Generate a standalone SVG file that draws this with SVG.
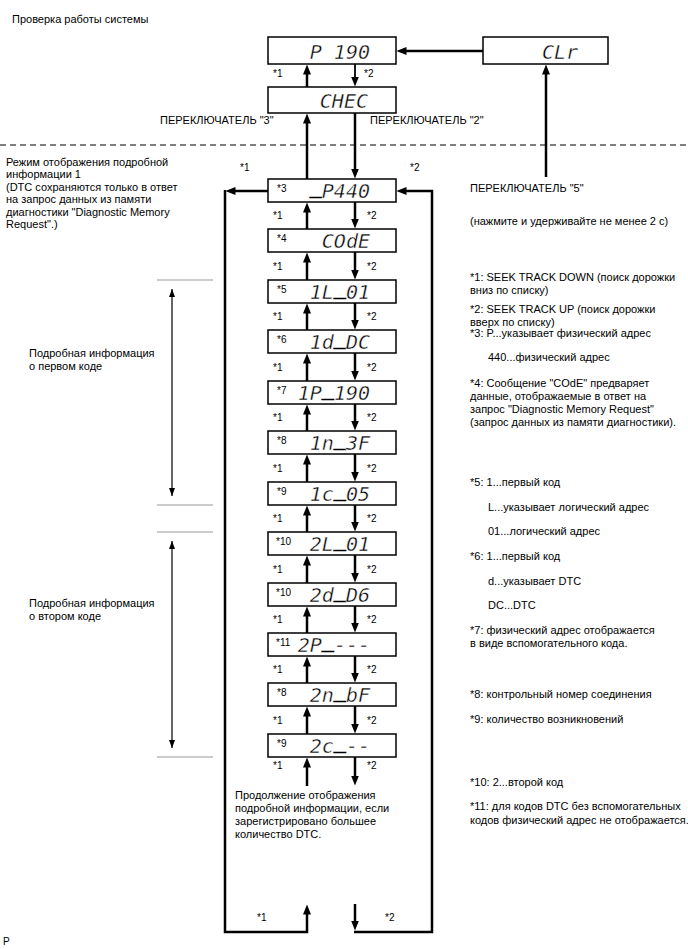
<svg xmlns="http://www.w3.org/2000/svg" width="688" height="949" viewBox="0 0 688 949">
<style>
.t{font-family:"Liberation Sans",Arial,sans-serif;font-size:11px;fill:#000}
.s{font-family:"Liberation Sans",Arial,sans-serif;font-size:10px;fill:#000}
.d{font-family:"DejaVu Sans Mono",monospace;font-style:oblique;font-size:20px;fill:#000;stroke:#fff;stroke-width:0.4;text-anchor:end}
.u{stroke:#000;stroke-width:0.9}
.box{fill:#fff;stroke:#000;stroke-width:1.5}
.ar{fill:none;stroke:#000;stroke-width:2.5;marker-end:url(#ah)}
.gl{stroke:#999;stroke-width:1}
.dim{stroke:#000;stroke-width:1.2;marker-start:url(#sa);marker-end:url(#sa)}
</style>
<defs>
<marker id="ah" viewBox="0 0 10 8" markerWidth="10" markerHeight="8" refX="0.5" refY="4" orient="auto" markerUnits="userSpaceOnUse"><path d="M0,0 L10,4 L0,8 z" fill="#000"/></marker>
<marker id="sa" viewBox="0 0 8 6" markerWidth="8" markerHeight="6" refX="8" refY="3" orient="auto-start-reverse" markerUnits="userSpaceOnUse"><path d="M0,0 L8,3 L0,6 z" fill="#000"/></marker>
</defs>

<rect width="688" height="949" fill="#fff"/>

<text class="t" x="12" y="23">Проверка работы системы</text>

<g id="n-p190"><rect class="box" x="268" y="37" width="128" height="27"/><text class="d" x="370" y="59">P 190</text></g>
<g id="n-clr"><rect class="box" x="483" y="37" width="125" height="27"/><text class="d" x="578" y="59">CLr</text></g>
<g id="n-chec"><rect class="box" x="268" y="87" width="128" height="26"/><text class="d" x="368" y="108">CHEC</text></g>

<line x1="0" y1="145" x2="688" y2="145" stroke="#555" stroke-width="1.3" stroke-dasharray="6,4"/>

<g id="n-3"><rect class="box" x="268" y="179" width="128" height="23"/><text class="s" x="277" y="192">*3</text><text class="d" x="370" y="198"><tspan class="u" dy="-5">_</tspan><tspan dy="5">P440</tspan></text></g>
<g id="n-4"><rect class="box" x="268" y="229" width="128" height="23"/><text class="s" x="277" y="242">*4</text><text class="d" x="370" y="248">COdE</text></g>
<g id="n-5"><rect class="box" x="268" y="280" width="128" height="23"/><text class="s" x="277" y="293">*5</text><text class="d" x="370" y="299">1L<tspan class="u" dy="-5">_</tspan><tspan dy="5">01</tspan></text></g>
<g id="n-6"><rect class="box" x="268" y="330" width="128" height="23"/><text class="s" x="277" y="343">*6</text><text class="d" x="370" y="349">1d<tspan class="u" dy="-5">_</tspan><tspan dy="5">DC</tspan></text></g>
<g id="n-7"><rect class="box" x="268" y="381" width="128" height="23"/><text class="s" x="277" y="394">*7</text><text class="d" x="370" y="400">1P<tspan class="u" dy="-5">_</tspan><tspan dy="5">190</tspan></text></g>
<g id="n-8a"><rect class="box" x="268" y="431" width="128" height="23"/><text class="s" x="277" y="444">*8</text><text class="d" x="370" y="450">1n<tspan class="u" dy="-5">_</tspan><tspan dy="5">3F</tspan></text></g>
<g id="n-9a"><rect class="box" x="268" y="482" width="128" height="23"/><text class="s" x="277" y="495">*9</text><text class="d" x="370" y="501">1c<tspan class="u" dy="-5">_</tspan><tspan dy="5">05</tspan></text></g>
<g id="n-10a"><rect class="box" x="268" y="532" width="128" height="23"/><text class="s" x="276" y="545">*10</text><text class="d" x="370" y="551">2L<tspan class="u" dy="-5">_</tspan><tspan dy="5">01</tspan></text></g>
<g id="n-10b"><rect class="box" x="268" y="583" width="128" height="23"/><text class="s" x="276" y="596">*10</text><text class="d" x="370" y="602">2d<tspan class="u" dy="-5">_</tspan><tspan dy="5">D6</tspan></text></g>
<g id="n-11"><rect class="box" x="268" y="633" width="128" height="23"/><text class="s" x="276" y="646">*11</text><text class="d" x="370" y="652">2P<tspan class="u" dy="-5">_</tspan><tspan dy="5">---</tspan></text></g>
<g id="n-8b"><rect class="box" x="268" y="683" width="128" height="23"/><text class="s" x="277" y="696">*8</text><text class="d" x="370" y="702">2n<tspan class="u" dy="-5">_</tspan><tspan dy="5">bF</tspan></text></g>
<g id="n-9b"><rect class="box" x="268" y="734" width="128" height="23"/><text class="s" x="277" y="747">*9</text><text class="d" x="370" y="753">2c<tspan class="u" dy="-5">_</tspan><tspan dy="5">--</tspan></text></g>

<g id="connectors">
<line class="ar" x1="483" y1="51" x2="406" y2="51"/>
<line class="ar" x1="307" y1="87" x2="307" y2="74"/>
<line class="ar" x1="355" y1="64" x2="355" y2="77" style="stroke-width:1.8"/>
<line class="ar" x1="307" y1="179" x2="307" y2="123"/>
<line class="ar" x1="355" y1="113" x2="355" y2="169"/>
<line class="ar" x1="546" y1="177" x2="546" y2="74"/>

<line class="ar" x1="268" y1="191" x2="235" y2="191"/>
<path class="ar" d="M225,190 V932 H307 V914"/>
<line class="ar" x1="355" y1="904" x2="355" y2="921"/>
<path class="ar" d="M354,932 H432 V191 H406"/>

<line class="ar" x1="307" y1="229" x2="307" y2="212"/><line class="ar" x1="355" y1="202" x2="355" y2="219"/>
<line class="ar" x1="307" y1="280" x2="307" y2="262"/><line class="ar" x1="355" y1="252" x2="355" y2="270"/>
<line class="ar" x1="307" y1="330" x2="307" y2="313"/><line class="ar" x1="355" y1="303" x2="355" y2="320"/>
<line class="ar" x1="307" y1="381" x2="307" y2="363"/><line class="ar" x1="355" y1="353" x2="355" y2="371"/>
<line class="ar" x1="307" y1="431" x2="307" y2="414"/><line class="ar" x1="355" y1="404" x2="355" y2="421"/>
<line class="ar" x1="307" y1="482" x2="307" y2="464"/><line class="ar" x1="355" y1="454" x2="355" y2="472"/>
<line class="ar" x1="307" y1="532" x2="307" y2="515"/><line class="ar" x1="355" y1="505" x2="355" y2="522"/>
<line class="ar" x1="307" y1="583" x2="307" y2="565"/><line class="ar" x1="355" y1="555" x2="355" y2="573"/>
<line class="ar" x1="307" y1="633" x2="307" y2="616"/><line class="ar" x1="355" y1="606" x2="355" y2="623"/>
<line class="ar" x1="307" y1="683" x2="307" y2="666"/><line class="ar" x1="355" y1="656" x2="355" y2="673"/>
<line class="ar" x1="307" y1="734" x2="307" y2="716"/><line class="ar" x1="355" y1="706" x2="355" y2="724"/>
<line class="ar" x1="307" y1="786" x2="307" y2="767"/><line class="ar" x1="355" y1="757" x2="355" y2="776"/>
</g>

<g id="step-labels">
<text class="s" x="273" y="77">*1</text><text class="s" x="364" y="77">*2</text>
<text class="s" x="240" y="171">*1</text><text class="s" x="410" y="171">*2</text>
<text class="s" x="273" y="219">*1</text><text class="s" x="367" y="219">*2</text>
<text class="s" x="273" y="270">*1</text><text class="s" x="367" y="270">*2</text>
<text class="s" x="273" y="320">*1</text><text class="s" x="367" y="320">*2</text>
<text class="s" x="273" y="371">*1</text><text class="s" x="367" y="371">*2</text>
<text class="s" x="273" y="421">*1</text><text class="s" x="367" y="421">*2</text>
<text class="s" x="273" y="472">*1</text><text class="s" x="367" y="472">*2</text>
<text class="s" x="273" y="522">*1</text><text class="s" x="367" y="522">*2</text>
<text class="s" x="273" y="573">*1</text><text class="s" x="367" y="573">*2</text>
<text class="s" x="273" y="623">*1</text><text class="s" x="367" y="623">*2</text>
<text class="s" x="273" y="673">*1</text><text class="s" x="367" y="673">*2</text>
<text class="s" x="273" y="724">*1</text><text class="s" x="367" y="724">*2</text>
<text class="s" x="273" y="769">*1</text><text class="s" x="367" y="769">*2</text>
<text class="s" x="257" y="921">*1</text><text class="s" x="385" y="921">*2</text>
</g>

<text class="t" x="160" y="124">ПЕРЕКЛЮЧАТЕЛЬ "3"</text>
<text class="t" x="370" y="124">ПЕРЕКЛЮЧАТЕЛЬ "2"</text>

<text class="t"><tspan x="6" y="166">Режим отображения подробной</tspan><tspan x="6" y="178">информации 1</tspan><tspan x="6" y="191">(DTC сохраняются только в ответ</tspan><tspan x="6" y="203">на запрос данных из памяти</tspan><tspan x="6" y="216">диагностики "Diagnostic Memory</tspan><tspan x="6" y="228">Request".)</tspan></text>

<g id="brackets">
<line class="gl" x1="157" y1="280" x2="213" y2="280"/>
<line class="gl" x1="157" y1="505" x2="213" y2="505"/>
<line class="gl" x1="157" y1="532" x2="213" y2="532"/>
<line class="gl" x1="157" y1="757" x2="213" y2="757"/>
<line class="dim" x1="172" y1="289" x2="172" y2="496"/>
<line class="dim" x1="172" y1="541" x2="172" y2="748"/>
</g>
<text class="t"><tspan x="29" y="357">Подробная информация</tspan><tspan x="29" y="370">о первом коде</tspan></text>
<text class="t"><tspan x="29" y="607">Подробная информация</tspan><tspan x="29" y="620">о втором коде</tspan></text>

<text class="t"><tspan x="235" y="799">Продолжение отображения</tspan><tspan x="235" y="812">подробной информации, если</tspan><tspan x="235" y="825">зарегистрировано большее</tspan><tspan x="235" y="838">количество DTC.</tspan></text>

<g id="notes">
<text class="t" x="470" y="192">ПЕРЕКЛЮЧАТЕЛЬ "5"</text>
<text class="t" x="470" y="225">(нажмите и удерживайте не менее 2 с)</text>
<text class="t"><tspan x="470" y="281">*1: SEEK TRACK DOWN (поиск дорожки</tspan><tspan x="470" y="294">вниз по списку)</tspan></text>
<text class="t"><tspan x="470" y="313">*2: SEEK TRACK UP (поиск дорожки</tspan><tspan x="470" y="326">вверх по списку)</tspan></text>
<text class="t" x="470" y="337">*3: P...указывает физический адрес</text>
<text class="t" x="488" y="361">440...физический адрес</text>
<text class="t"><tspan x="470" y="387">*4: Сообщение "COdE" предваряет</tspan><tspan x="470" y="400">данные, отображаемые в ответ на</tspan><tspan x="470" y="413">запрос "Diagnostic Memory Request"</tspan><tspan x="470" y="426">(запрос данных из памяти диагностики).</tspan></text>
<text class="t" x="470" y="486">*5: 1...первый код</text>
<text class="t" x="488" y="511">L...указывает логический адрес</text>
<text class="t" x="488" y="535">01...логический адрес</text>
<text class="t" x="470" y="560">*6: 1...первый код</text>
<text class="t" x="488" y="585">d...указывает DTC</text>
<text class="t" x="488" y="609">DC...DTC</text>
<text class="t"><tspan x="470" y="634">*7: физический адрес отображается</tspan><tspan x="470" y="647">в виде вспомогательного кода.</tspan></text>
<text class="t" x="470" y="698">*8: контрольный номер соединения</text>
<text class="t" x="470" y="723">*9: количество возникновений</text>
<text class="t" x="470" y="786">*10: 2...второй код</text>
<text class="t"><tspan x="470" y="810">*11: для кодов DTC без вспомогательных</tspan><tspan x="470" y="824">кодов физический адрес не отображается.</tspan></text>
</g>

<text class="s" x="3" y="945">P</text>
</svg>
